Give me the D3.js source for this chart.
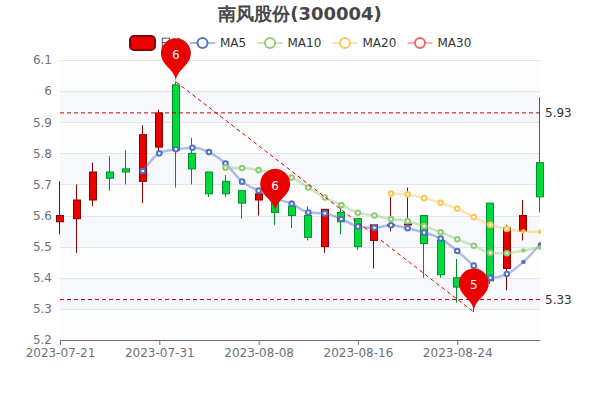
<!DOCTYPE html>
<html><head><meta charset="utf-8">
<script src="https://cdn.jsdelivr.net/npm/d3@7/dist/d3.min.js"></script>
<style>html,body{margin:0;padding:0;background:#fff}svg{display:block}text{font-family:"DejaVu Sans",sans-serif}</style>
</head><body><div id="c"></div>
<script>
const dates=["2023-07-21","2023-07-24","2023-07-25","2023-07-26","2023-07-27","2023-07-28","2023-07-31","2023-08-01","2023-08-02","2023-08-03","2023-08-04","2023-08-07","2023-08-08","2023-08-09","2023-08-10","2023-08-11","2023-08-14","2023-08-15","2023-08-16","2023-08-17","2023-08-18","2023-08-21","2023-08-22","2023-08-23","2023-08-24","2023-08-25","2023-08-28","2023-08-29","2023-08-30","2023-08-31"];
const opens=[5.58,5.59,5.65,5.74,5.75,5.71,5.82,6.02,5.80,5.74,5.71,5.68,5.65,5.65,5.63,5.60,5.50,5.61,5.59,5.52,5.568,5.57,5.60,5.52,5.40,5.40,5.64,5.43,5.55,5.77];
const closes=[5.60,5.65,5.74,5.72,5.74,5.86,5.93,5.81,5.75,5.67,5.67,5.64,5.67,5.61,5.60,5.53,5.62,5.58,5.50,5.57,5.57,5.573,5.51,5.41,5.37,5.33,5.39,5.56,5.60,5.66];
const highs=[5.71,5.70,5.77,5.79,5.81,5.89,5.94,6.03,5.85,5.74,5.73,5.68,5.68,5.68,5.65,5.63,5.62,5.63,5.59,5.57,5.66,5.69,5.60,5.52,5.46,5.45,5.64,5.57,5.65,5.98];
const lows=[5.54,5.48,5.63,5.68,5.70,5.64,5.80,5.69,5.70,5.66,5.66,5.59,5.60,5.57,5.56,5.52,5.48,5.54,5.49,5.43,5.55,5.56,5.40,5.40,5.32,5.29,5.38,5.36,5.52,5.61];
const ma5=[null,null,null,null,null,5.743,5.80,5.813,5.818,5.804,5.767,5.709,5.68,5.655,5.638,5.61,5.607,5.589,5.565,5.561,5.569,5.559,5.545,5.526,5.486,5.439,5.40,5.412,5.451,5.507];
const ma10=[null,null,null,null,null,null,null,null,null,null,5.754,5.753,5.746,5.735,5.722,5.69,5.658,5.634,5.609,5.60,5.589,5.582,5.566,5.546,5.524,5.503,5.48,5.479,5.488,5.497];
const ma20=[null,null,null,null,null,null,null,null,null,null,null,null,null,null,null,null,null,null,null,null,5.671,5.668,5.656,5.641,5.622,5.595,5.57,5.557,5.549,5.548];
const seriesNames=["MA5","MA10","MA20","MA30"];
const seriesColors=["#5470c6","#91cc75","#fac858","#ee6666"];
const yTicks=[5.2,5.3,5.4,5.5,5.6,5.7,5.8,5.9,6,6.1];
const xTickDates=["2023-07-21","2023-07-31","2023-08-08","2023-08-16","2023-08-24"];
const refLines=[5.93,5.33];
const pinDates=["2023-08-01","2023-08-09","2023-08-25"];
const pinValues=[6.03,5.61,5.29];
const pinLabels=["6","6","5"];
// markers at the right edge are solid dots in the reference
const solidMarkerDates=["2023-08-30","2023-08-31"];

const W=600,H=400,L=60,R=540,T=60,B=340;
const svg=d3.select("#c").append("svg").attr("width",W).attr("height",H);
const x=d3.scalePoint().domain(dates).range([L,R]);
const y=d3.scaleLinear().domain([5.2,6.1]).range([B,T]);
const cRed="#eb0000",cRedB="#8a0000",cGreen="#00da3c",cGreenB="#008f28";
svg.append("clipPath").attr("id","clipEnd").append("rect").attr("x",0).attr("y",0).attr("width",R+1).attr("height",H);

// split areas
d3.range(yTicks.length-1).forEach(i=>{
  svg.append("rect").attr("x",L).attr("width",R-L).attr("y",y(yTicks[i+1])).attr("height",y(yTicks[i])-y(yTicks[i+1]))
    .attr("fill",i%2==0?"#fdfdfe":"#f6f8fc");
});
// grid
svg.append("g").selectAll("line").data(yTicks.slice(1)).join("line")
  .attr("x1",L).attr("x2",R).attr("y1",d=>Math.round(y(d))+.5).attr("y2",d=>Math.round(y(d))+.5).attr("stroke","#e0e6f1");
// axes
const yAxis=d3.axisLeft(y).tickValues(yTicks).tickFormat(d=>String(+d.toFixed(1))).tickSize(0).tickPadding(8);
const ga=svg.append("g").attr("transform",`translate(${L},0)`).call(yAxis);
ga.select(".domain").remove();
ga.selectAll("text").attr("font-size",12).attr("fill","#6e7079").attr("font-family","DejaVu Sans");
const xAxis=d3.axisBottom(x).tickValues(xTickDates).tickSize(5).tickPadding(3);
const gx=svg.append("g").attr("transform",`translate(0,${B})`).call(xAxis);
gx.select(".domain").attr("d",`M${L},0.5H${R}`).attr("stroke","#6e7079");
gx.selectAll("line").attr("stroke","#6e7079");
gx.selectAll("text").attr("font-size",12).attr("fill","#6e7079").attr("font-family","DejaVu Sans");

// candles
const cg=svg.append("g");
dates.forEach((d,i)=>{
  const up=closes[i]>=opens[i];
  const col=up?cRed:cGreen, bc=up?cRedB:cGreenB, raw=x(d), rx=Math.round(raw-4)+.5, cx=rx+3;
  const top=y(Math.max(opens[i],closes[i])),bot=y(Math.min(opens[i],closes[i]));
  cg.append("line").attr("x1",cx).attr("x2",cx).attr("y1",y(highs[i])).attr("y2",top).attr("stroke",bc);
  cg.append("line").attr("x1",cx).attr("x2",cx).attr("y1",bot).attr("y2",y(lows[i])).attr("stroke",bc);
  cg.append("rect").attr("x",rx).attr("width",7).attr("y",top).attr("height",Math.max(bot-top,.5)).attr("fill",col).attr("stroke",bc);
});

// MA lines
[ma5,ma10,ma20].forEach((s,k)=>{
  const line=d3.line().defined(d=>d!=null).x((d,i)=>x(dates[i])).y(d=>y(d)).curve(d3.curveMonotoneX);
  svg.append("path").attr("d",line(s)).attr("fill","none").attr("stroke",seriesColors[k]).attr("stroke-width",2.5).attr("stroke-opacity",.45);
  const pts=s.map((v,i)=>({v,d:dates[i]})).filter(o=>o.v!=null);
  const solid=o=>solidMarkerDates.includes(o.d);
  svg.append("g").attr("clip-path","url(#clipEnd)").selectAll("circle").data(pts).join("circle")
    .attr("cx",o=>x(o.d)).attr("cy",o=>y(o.v)).attr("r",o=>solid(o)?2.2:2.3)
    .attr("fill",o=>solid(o)?seriesColors[k]:"#fff").attr("stroke",seriesColors[k]).attr("stroke-width",o=>solid(o)?0:2);
});

// reference lines
svg.append("g").selectAll("line").data(refLines).join("line")
  .attr("x1",L).attr("x2",R).attr("y1",d=>y(d)).attr("y2",d=>y(d)).attr("stroke","#cc0000").attr("stroke-dasharray","4,3");
svg.append("g").selectAll("text").data(refLines).join("text").attr("x",R+5).attr("y",d=>y(d)).attr("dy","0.35em")
  .attr("font-size",12).attr("fill","#333").text(d=>d);
// diagonal
svg.append("line").attr("x1",x(pinDates[0])).attr("y1",y(pinValues[0])).attr("x2",x(pinDates[2])).attr("y2",y(pinValues[2]))
  .attr("stroke","#e60000").attr("stroke-dasharray","4,3");

// legend
const lg=svg.append("g");
lg.append("rect").attr("x",130).attr("y",36).attr("width",25).attr("height",14).attr("rx",4).attr("fill",cRed).attr("stroke",cRedB).attr("stroke-width",2);
lg.append("text").attr("x",160).attr("y",43).attr("dy","0.35em").attr("font-size",12).attr("fill","#333").text("日K");
const lgx=[190,257.5,332.5,407.5];
seriesNames.forEach((n,i)=>{
  const g=lg.append("g").attr("transform",`translate(${lgx[i]},43)`);
  g.append("line").attr("x1",0).attr("x2",25).attr("stroke",seriesColors[i]).attr("stroke-width",2).attr("stroke-opacity",.5);
  g.append("circle").attr("cx",12.5).attr("r",5).attr("fill","#fff").attr("stroke",seriesColors[i]).attr("stroke-width",2);
  g.append("text").attr("x",30).attr("dy","0.35em").attr("font-size",12).attr("fill","#333").text(n);
});

// pins
function pinPath(px,py){
  const w=30,h=50,r=w/2,dy=r*r/(h-r),cy=py-h+r+dy,ang=Math.asin(dy/r),dx=Math.cos(ang)*r,tx=Math.sin(ang),ty=Math.cos(ang),c1=r*.6,c2=r*.7;
  const p=d3.path();
  p.moveTo(px-dx,cy+dy);
  p.arc(px,cy,r,Math.PI-ang,Math.PI*2+ang);
  p.bezierCurveTo(px+dx-tx*c1,cy+dy+ty*c1,px,py-c2,px,py);
  p.bezierCurveTo(px,py-c2,px-dx+tx*c1,cy+dy+ty*c1,px-dx,cy+dy);
  p.closePath();
  return p.toString();
}
pinDates.forEach((d,i)=>{
  const px=x(d),py=y(pinValues[i]);
  svg.append("path").attr("d",pinPath(px,py)).attr("fill","#eb0000");
  svg.append("text").attr("x",px).attr("y",py-27).attr("dy","0.35em").attr("text-anchor","middle").attr("font-size",12).attr("fill","#fff").text(pinLabels[i]);
});

// title
svg.append("text").attr("x",300).attr("y",14).attr("dy","0.35em").attr("text-anchor","middle").attr("font-size",18).attr("font-weight","bold").attr("fill","#464646").attr("font-family","'DejaVu Sans','Noto Sans CJK SC',sans-serif").text("南风股份(300004)");
</script></body></html>
